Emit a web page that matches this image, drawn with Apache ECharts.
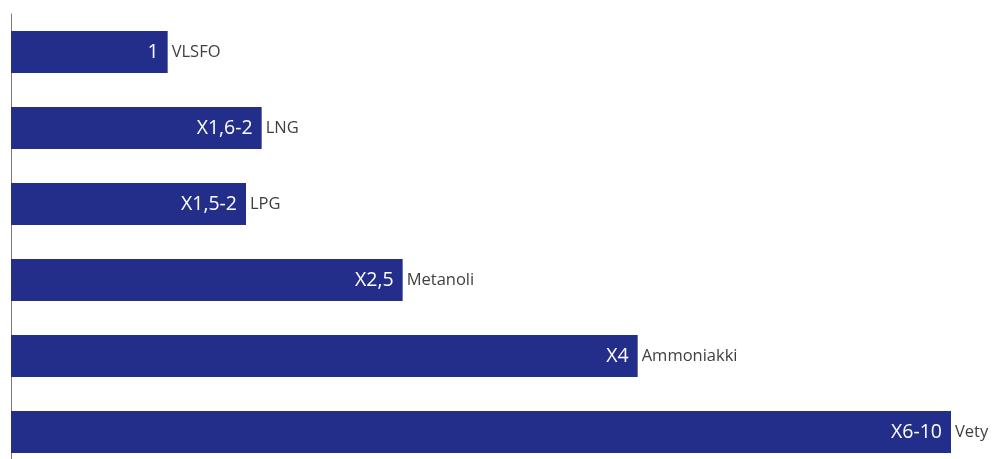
<!DOCTYPE html>
<html>
<head>
<meta charset="utf-8">
<script src="https://cdn.jsdelivr.net/npm/echarts@6/dist/echarts.min.js"></script>
<style>
  html, body { margin: 0; padding: 0; background: #ffffff; overflow: hidden; }
  #chart { width: 992px; height: 472px; }
</style>
</head>
<body>
<div id="chart"></div>
<script>
// Fuel types and their relative tank volume versus VLSFO
const categories = ['VLSFO', 'LNG', 'LPG', 'Metanoli', 'Ammoniakki', 'Vety'];
const values = [1, 1.6, 1.5, 2.5, 4, 6];
const valueLabels = ['1', 'X1,6-2', 'X1,5-2', 'X2,5', 'X4', 'X6-10'];

const chart = echarts.init(document.getElementById('chart'), null, { renderer: 'canvas' });

chart.setOption({
  animation: false,
  backgroundColor: '#ffffff',
  grid: { left: 11, top: 14, width: 940, height: 456, containLabel: false },
  xAxis: {
    type: 'value',
    min: 0,
    max: 6,
    show: false
  },
  yAxis: {
    type: 'category',
    data: categories,
    inverse: true,
    axisLine: { show: true, lineStyle: { color: '#7a7a7a', width: 1 } },
    axisTick: { show: false },
    axisLabel: { show: false }
  },
  series: [
    {
      type: 'bar',
      data: values,
      barWidth: 42,
      itemStyle: { color: '#232e8a' },
      label: {
        show: true,
        position: 'insideRight',
        distance: 9,
        color: '#ffffff',
        fontFamily: 'Open Sans, sans-serif',
        fontSize: 19.5,
        formatter: (p) => valueLabels[p.dataIndex]
      },
      z: 2
    },
    {
      type: 'bar',
      data: values,
      barWidth: 42,
      barGap: '-100%',
      itemStyle: { color: 'rgba(0,0,0,0)' },
      label: {
        show: true,
        position: 'right',
        distance: 4,
        color: '#3f3f3f',
        fontFamily: 'Open Sans, sans-serif',
        fontSize: 16.5,
        formatter: (p) => categories[p.dataIndex]
      },
      z: 3
    }
  ]
});
</script>
</body>
</html>
